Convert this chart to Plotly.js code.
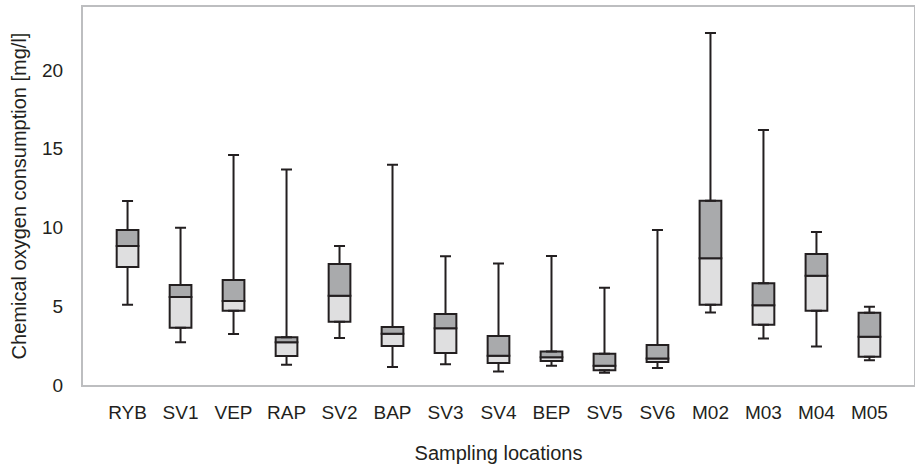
<!DOCTYPE html>
<html>
<head>
<meta charset="utf-8">
<script src="https://cdn.plot.ly/plotly-3.0.1.min.js"></script>
<style>html,body{margin:0;padding:0;background:#fff;}#chart{width:915px;height:469px;}</style>
</head>
<body>
<div id="chart"></div>
<script>
const locations = ["RYB","SV1","VEP","RAP","SV2","BAP","SV3","SV4","BEP","SV5","SV6","M02","M03","M04","M05"];
const minVals    = [5.10, 2.71, 3.24, 1.29, 2.98, 1.14, 1.31, 0.85, 1.23, 0.78, 1.08, 4.61, 2.96, 2.45, 1.57];
const q1Vals     = [7.49, 3.64, 4.72, 1.84, 4.02, 2.48, 2.03, 1.40, 1.52, 0.93, 1.46, 5.10, 3.83, 4.72, 1.80];
const medianVals = [8.83, 5.59, 5.33, 2.71, 5.67, 3.26, 3.60, 1.86, 1.76, 1.23, 1.69, 8.04, 5.06, 6.94, 3.07];
const q3Vals     = [9.84, 6.35, 6.67, 3.03, 7.68, 3.68, 4.51, 3.11, 2.12, 1.99, 2.54, 11.70, 6.46, 8.32, 4.59];
const maxVals    = [11.68, 9.99, 14.60, 13.69, 8.83, 13.99, 8.17, 7.72, 8.19, 6.18, 9.84, 22.35, 16.19, 9.71, 4.97];

const dark = "#231f20";
const font = "Liberation Sans, Arial, sans-serif";

const lowerBox = {
  type: "bar", x: locations,
  base: q1Vals, y: medianVals.map((m, i) => m - q1Vals[i]),
  width: 0.41,
  marker: {color: "#dfdfe0", line: {color: dark, width: 2}},
  hoverinfo: "skip", showlegend: false
};
const upperBox = {
  type: "bar", x: locations,
  base: medianVals, y: q3Vals.map((q, i) => q - medianVals[i]),
  width: 0.41,
  marker: {color: "#a9aaac", line: {color: dark, width: 2}},
  hoverinfo: "skip", showlegend: false
};
const upperWhisker = {
  type: "scatter", mode: "markers", x: locations, y: q3Vals,
  marker: {size: 1, color: "rgba(0,0,0,0)"},
  error_y: {type: "data", symmetric: false,
    array: maxVals.map((m, i) => m - q3Vals[i]),
    arrayminus: maxVals.map(() => 0),
    width: 5.5, thickness: 2, color: dark},
  hoverinfo: "skip", showlegend: false
};
const lowerWhisker = {
  type: "scatter", mode: "markers", x: locations, y: q1Vals,
  marker: {size: 1, color: "rgba(0,0,0,0)"},
  error_y: {type: "data", symmetric: false,
    array: minVals.map(() => 0),
    arrayminus: minVals.map((m, i) => q1Vals[i] - m),
    width: 5.5, thickness: 2, color: dark},
  hoverinfo: "skip", showlegend: false
};

const layout = {
  width: 915, height: 469,
  margin: {l: 83, r: 1, t: 7, b: 84},
  paper_bgcolor: "#ffffff", plot_bgcolor: "#ffffff",
  barmode: "overlay",
  font: {family: font, color: dark, size: 19},
  xaxis: {
    type: "category",
    showgrid: false, zeroline: false,
    showline: true, mirror: true, linecolor: "#bdbec0", linewidth: 2,
    ticks: "", ticklabelstandoff: 9,
    tickfont: {size: 19, color: dark, family: font},
    title: {text: "Sampling locations", font: {size: 20, color: dark, family: font}, standoff: 24}
  },
  yaxis: {
    range: [0, 24], dtick: 5, tick0: 0,
    showgrid: false, zeroline: false,
    showline: true, mirror: true, linecolor: "#bdbec0", linewidth: 2,
    ticks: "", ticklabelstandoff: 14,
    tickfont: {size: 19, color: dark, family: font},
    title: {text: "Chemical oxygen consumption [mg/l]", font: {size: 20, color: dark, family: font}, standoff: 10}
  }
};

Plotly.newPlot("chart", [lowerBox, upperBox, lowerWhisker, upperWhisker], layout, {displayModeBar: false, staticPlot: true});
</script>
</body>
</html>
